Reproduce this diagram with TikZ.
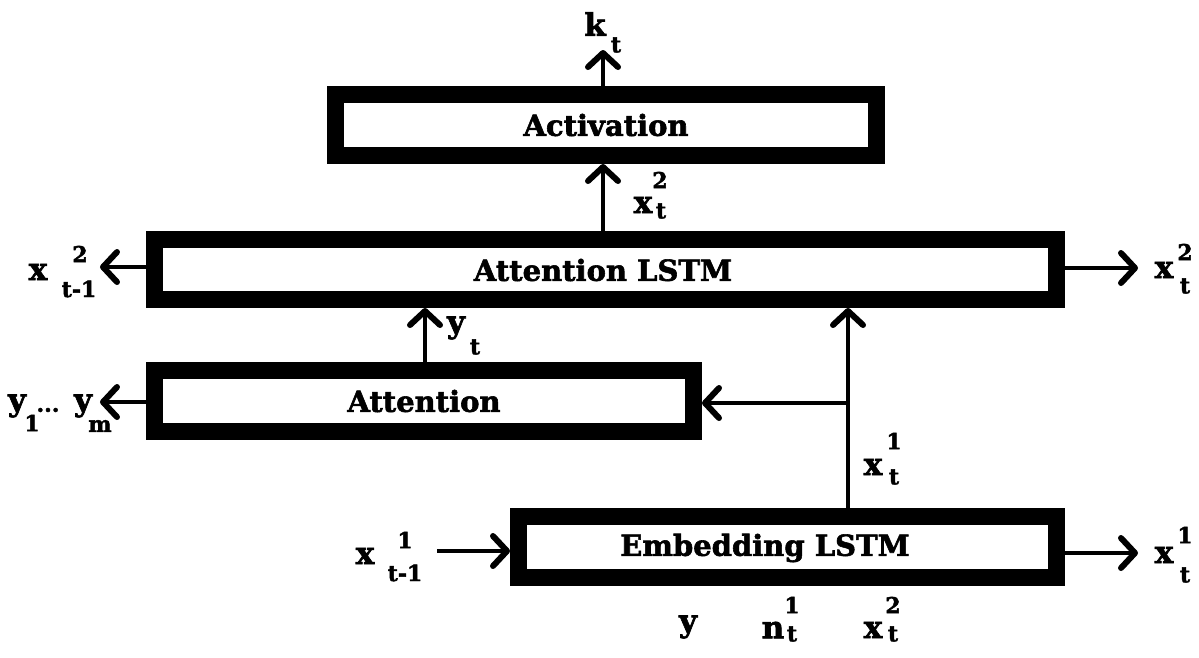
\documentclass[tikz,border=0pt]{standalone}
\usepackage{fontspec}
\setmainfont[BoldFeatures={FakeBold=2}]{DejaVu Serif}
\usetikzlibrary{arrows.meta}
\begin{document}
\begin{tikzpicture}[x=1pt,y=-1pt,
  boxst/.style={draw, line width=17pt, inner sep=0pt, font=\bfseries\fontsize{29}{32}\selectfont},
  boxtxt/.style={inner sep=0pt, font=\bfseries\fontsize{29}{32}\selectfont},
  arr/.style={line width=4.5pt, -{Straight Barb[length=14pt,width=30pt,line width=6pt,round]}},
  big/.style={font=\bfseries\fontsize{31}{34}\selectfont, inner sep=0pt},
  small/.style={font=\bfseries\fontsize{22}{24}\selectfont, inner sep=0pt}]
\useasboundingbox (0,0) rectangle (1199,657);
% boxes
\node[boxst, minimum width=541pt, minimum height=61pt] (act) at (606,125) {Activation};
\node[boxst, minimum width=902pt, minimum height=60pt] (alstm) at (605.5,269.5) {};
\node[boxtxt] (alstmt) at (603,270) {Attention LSTM};
\node[boxst, minimum width=539pt, minimum height=61pt] (att) at (424,401) {Attention};
\node[boxst, minimum width=538pt, minimum height=61pt] (emb) at (787.5,547) {};
\node[boxtxt] (embt) at (765,548) {Embedding LSTM};
% connectors
\coordinate (kt) at (603,50);
\draw[arr] (act.north -| kt) -- (kt);
\draw[arr] (alstm.north -| kt) -- (act.south -| kt);
\coordinate (lt2) at (100,267);
\draw[arr] (alstm.west |- lt2) -- (lt2);
\coordinate (rt2) at (1138,268);
\draw[arr] (alstm.east |- rt2) -- (rt2);
\coordinate (yt) at (425,0);
\draw[arr] (att.north -| yt) -- (alstm.south -| yt);
\coordinate (ym) at (100,402);
\draw[arr] (att.west |- ym) -- (ym);
\coordinate (vx) at (848,403);
\draw[arr] (emb.north -| vx) -- (alstm.south -| vx);
\draw[arr] (vx) -- (att.east |- vx);
\coordinate (xin) at (437,551);
\draw[arr] (xin) -- (emb.west |- xin);
\coordinate (xout) at (1138,553);
\draw[arr] (emb.east |- xout) -- (xout);
% labels
\node[big] (k) at (595,24) {k};
\node[small] (kts) at (616,45) {t};
\node[big] (xa) at (643,205) {x};
\node[small] (xa2) at (660,180) {2};
\node[small] (xat) at (661,211) {t};
\node[big] (xl) at (38,272) {x};
\node[small] (xl2) at (80,254) {2};
\node[small] (xlt) at (79,289) {t-1};
\node[big] (y1) at (17,406) {y};
\node[small] (y1s) at (32,423) {1};
\node[small] (dots) at (48,410) {...};
\node[big] (ym2) at (83,406) {y};
\node[small] (yms) at (100,426) {m};
\node[big] (ytl) at (456,328) {y};
\node[small] (ytls) at (475,347) {t};
\node[big] (xm) at (873,467) {x};
\node[small] (xm1) at (894,441) {1};
\node[small] (xmt) at (894,477) {t};
\node[big] (xi) at (365,556) {x};
\node[small] (xi1) at (405,540) {1};
\node[small] (xit) at (405,573) {t-1};
\node[big] (xr2) at (1164,270) {x};
\node[small] (xr22) at (1185,252) {2};
\node[small] (xr2t) at (1185,286) {t};
\node[big] (xr1) at (1164,555) {x};
\node[small] (xr11) at (1185,535) {1};
\node[small] (xr1t) at (1185,575) {t};
\node[big] (yb) at (688,627) {y};
\node[big] (nb) at (773,630) {n};
\node[small] (nb1) at (792,605) {1};
\node[small] (nbt) at (792,634) {t};
\node[big] (xb) at (873,630) {x};
\node[small] (xb2) at (893,605) {2};
\node[small] (xbt) at (893,634) {t};
\end{tikzpicture}
\end{document}
